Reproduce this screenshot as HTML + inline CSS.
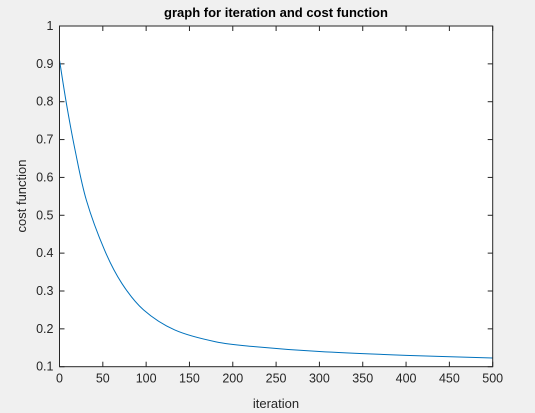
<!DOCTYPE html>
<html><head><meta charset="utf-8"><style>
html,body{margin:0;padding:0;background:#f0f0f0;}
svg{display:block;font-family:"Liberation Sans",Arial,sans-serif;}
</style></head><body>
<svg id="chart" width="535" height="413">
<rect x="0" y="0" width="535" height="413" fill="#f0f0f0"/>
<rect x="59.5" y="26" width="433.2" height="340.7" fill="#fff"/>
<g id="grid"></g>
<path id="line" fill="none" stroke="#0072bd" stroke-width="1"/>
<rect x="59.5" y="26" width="433.2" height="340.7" fill="none" stroke="#262626" stroke-width="1"/>
<text x="276" y="17" text-anchor="middle" font-size="13" font-weight="bold" fill="#000">graph for iteration and cost function</text>
<text x="276" y="408" text-anchor="middle" font-size="13" fill="#262626">iteration</text>
<text x="0" y="0" transform="translate(26,196) rotate(-90)" text-anchor="middle" font-size="13" fill="#262626">cost function</text>
</svg>
<script>
const iterations=[0,8,18,31,52,72,97,133,180,225,300,400,500];
const costs=[0.910,0.795,0.672,0.540,0.408,0.320,0.250,0.197,0.166,0.153,0.140,0.130,0.123];
const xTicks=[0,50,100,150,200,250,300,350,400,450,500];
const yTicks=[0.1,0.2,0.3,0.4,0.5,0.6,0.7,0.8,0.9,1];
const X0=59.5,X1=492.7,Y0=366.7,Y1=26;
const xs=v=>X0+(v-0)/(500-0)*(X1-X0);
const ys=v=>Y0-(v-0.1)/(1-0.1)*(Y0-Y1);
const NS='http://www.w3.org/2000/svg';
const g=document.getElementById('grid');
function mk(t,a){const e=document.createElementNS(NS,t);for(const k in a)e.setAttribute(k,a[k]);return e;}
xTicks.forEach(v=>{
 const x=xs(v);
 const t1=mk('line',{x1:x,x2:x,y1:Y0,y2:Y0-5,stroke:'#262626'});
 
 
 g.appendChild(t1);
 const t2=mk('line',{x1:x,x2:x,y1:Y1,y2:Y1+5,stroke:'#262626'});
 
 
 g.appendChild(t2);
 const l=mk('text',{x:x,y:Y0+16,'text-anchor':'middle','font-size':12.5,fill:'#262626'});
 l.textContent=v;
 
 
 g.appendChild(l);
});
yTicks.forEach(v=>{
 const y=ys(v);
 const t1=mk('line',{x1:X0,x2:X0+5,y1:y,y2:y,stroke:'#262626'});
 
 
 g.appendChild(t1);
 const t2=mk('line',{x1:X1,x2:X1-5,y1:y,y2:y,stroke:'#262626'});
 
 
 g.appendChild(t2);
 const l=mk('text',{x:X0-6,y:y+4,'text-anchor':'end','font-size':12.5,fill:'#262626'});
 l.textContent=v;
 
 
 g.appendChild(l);
});
const P=iterations.map((v,i)=>[xs(v),ys(costs[i])]);
let d='M'+P[0][0]+','+P[0][1];
for(let i=0;i<P.length-1;i++){
 const p0=P[Math.max(0,i-1)],p1=P[i],p2=P[i+1],p3=P[Math.min(P.length-1,i+2)];
 const c1=[p1[0]+(p2[0]-p0[0])/6,p1[1]+(p2[1]-p0[1])/6];
 const c2=[p2[0]-(p3[0]-p1[0])/6,p2[1]-(p3[1]-p1[1])/6];
 d+=' C'+c1[0]+','+c1[1]+' '+c2[0]+','+c2[1]+' '+p2[0]+','+p2[1];
}
document.getElementById('line').setAttribute('d',d);
</script>
</body></html>
